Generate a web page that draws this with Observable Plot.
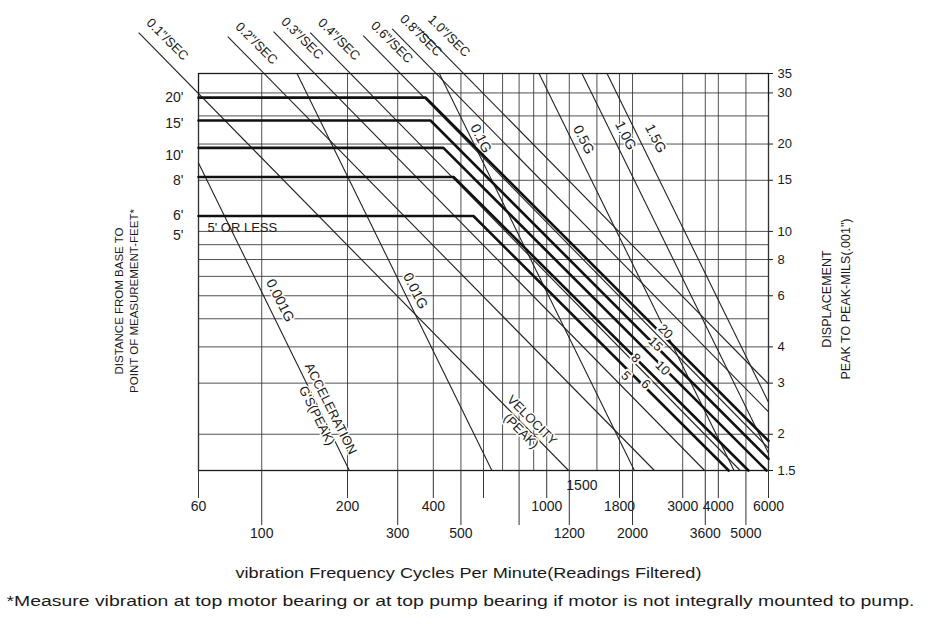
<!DOCTYPE html>
<html>
<head>
<meta charset="utf-8">
<script src="https://cdn.jsdelivr.net/npm/d3@7"></script>
<script src="https://cdn.jsdelivr.net/npm/@observablehq/plot@0.6"></script>
<style>
  html, body { margin: 0; padding: 0; background: #fff; }
  #chart { width: 931px; height: 624px; }
</style>
</head>
<body>
<div id="chart"></div>
<script>
// ---------- data ----------
// grid
const gridCPM = [100, 200, 300, 400, 500, 600, 700, 800, 900, 1000, 1200, 1500, 1800, 2000, 3000, 3600, 4000, 5000];
const gridMils = [2, 3, 4, 5, 6, 7, 8, 9, 10, 15, 20, 25, 30];
// frequency tick labels (two staggered rows + 1500; 60 and 6000 at the frame edges)
const freqRow1 = [200, 400, 600, 1000, 1800, 3000, 4000];
const freqEdge = [60, 6000];
const freqRow2 = [100, 300, 500, 800, 1200, 2000, 3600, 5000];
const freqRow0 = [1500];
// displacement (right) tick labels
const milsTicks = [35, 30, 20, 15, 10, 8, 6, 4, 3, 2, 1.5];
// distance (left) labels
const distanceTickLabels = ["20'", "15'", "10'", "8'", "6'", "5'"];
const distanceTickMils = [28.9, 23.6, 18.3, 15.0, 11.3, 9.7];

// velocity lines (in/sec peak)
const velocityLabels = ['0.1"/SEC', '0.2"/SEC', '0.3"/SEC', '0.4"/SEC', '0.6"/SEC', '0.8"/SEC', '1.0"/SEC'];
const velStartCPM = [37, 76, 110, 148, 227, 287, 360];
const velStartMils = [48.4, 46.9, 48.8, 48.4, 47.3, 49.9, 49.7];
const velEndCPM = [1193, 2387, 3580, 4773, 6000, 6000, 6000];
const velEndMils = [1.5, 1.5, 1.5, 1.5, 1.79, 2.39, 2.98];

// acceleration lines (g peak)
const accelLabels = ["0.001G", "0.01G", "0.1G", "0.5G", "1.0G", "1.5G"];
const accStartCPM = [60, 133, 420, 940, 1329, 1628];
const accStartMils = [17.2, 35, 35, 35, 35, 35];
const accEndCPM = [203, 642, 2031, 4541, 6000, 6000];
const accEndMils = [1.5, 1.5, 1.5, 1.5, 1.72, 2.58];
const accLabelCPM = [116, 346, 587, 1346, 1892, 2408];
const accLabelMils = [5.78, 6.24, 20.9, 20.7, 21.4, 20.9];

// distance-from-base limit lines
const distanceNames = ["20'", "15'", "10'", "8'", "5' OR LESS"];
const distLevelMils = [28.9, 24.1, 19.4, 15.4, 11.3];
const distBreakCPM = [376, 391, 434, 471, 553];
const distEndCPM = [6000, 6000, 5904, 5102, 4348];
const distEndMils = [1.898, 1.645, 1.5, 1.5, 1.5];
const distMarkLabels = ["20", "15", "10", "8", "6", "5"];
const distMarkCPM = [2612, 2408, 2550, 2051, 2224, 1892];
const distMarkMils = [4.52, 4.09, 3.38, 3.66, 2.98, 3.18];

// texts
const leftTitle = "DISTANCE FROM BASE TO\nPOINT OF MEASUREMENT-FEET*";
const rightTitle = "DISPLACEMENT\nPEAK TO PEAK-MILS(.001\")";
const xTitle = "vibration Frequency Cycles Per Minute(Readings Filtered)";
const footnote = "*Measure vibration at top motor bearing or at top pump bearing if motor is not integrally mounted to pump.";
const fiveOrLess = "5' OR LESS";

// ---------- build tables ----------
const vel = velocityLabels.map((label, i) => ({label, x1: velStartCPM[i], y1: velStartMils[i], x2: velEndCPM[i], y2: velEndMils[i]}));
const acc = accelLabels.map((label, i) => ({label, x1: accStartCPM[i], y1: accStartMils[i], x2: accEndCPM[i], y2: accEndMils[i], lx: accLabelCPM[i], ly: accLabelMils[i]}));
const distPts = distanceNames.flatMap((name, i) => [
  {name, x: 60, y: distLevelMils[i]},
  {name, x: distBreakCPM[i], y: distLevelMils[i]},
  {name, x: distEndCPM[i], y: distEndMils[i]}
]);
const distMarks = distMarkLabels.map((t, i) => ({t, x: distMarkCPM[i], y: distMarkMils[i]}));
const distTicks = distanceTickLabels.map((t, i) => ({t, y: distanceTickMils[i]}));

const FONT = "'Liberation Sans', Arial, Helvetica, sans-serif";
const INK = "#1a1a1a";

const chart = Plot.plot({
  width: 931,
  height: 624,
  marginLeft: 198,
  marginRight: 163,
  marginTop: 73,
  marginBottom: 154,
  x: {type: "log", domain: [60, 6000], axis: null},
  y: {type: "log", domain: [1.5, 35], axis: null},
  style: {fontFamily: FONT, fontSize: "13px", color: INK, background: "#fff", overflow: "visible"},
  marks: [
    // grid
    Plot.ruleY(gridMils, {stroke: "#333", strokeWidth: 1, strokeOpacity: 0.85}),
    Plot.ruleX(gridCPM, {stroke: "#333", strokeWidth: 1, strokeOpacity: 0.85}),
    Plot.frame({stroke: INK, strokeWidth: 1.3}),
    // frequency axis: staggered tick rows
    Plot.axisX({anchor: "bottom", ticks: freqRow1, tickSize: 28, tickPadding: 3, tickFormat: d => String(d), fontSize: 14, stroke: "#333"}),
    Plot.tickX(freqEdge, {x: d => d, stroke: "#333", dy: 28}),
    Plot.text(freqEdge, {x: d => d, frameAnchor: "bottom", text: d => String(d), lineAnchor: "top", dy: 31, fontSize: 14}),
    Plot.axisX({anchor: "bottom", ticks: freqRow2, tickSize: 55, tickPadding: 3, tickFormat: d => String(d), fontSize: 14, stroke: "#333"}),
    Plot.axisX({anchor: "bottom", ticks: freqRow0, tickSize: 0, tickPadding: 10, dx: -15, tickFormat: d => String(d), fontSize: 14}),
    // displacement axis (right)
    Plot.axisY({anchor: "right", ticks: milsTicks, tickSize: 4, tickPadding: 5, tickFormat: d => String(d), fontSize: 13}),
    // distance labels (left)
    Plot.text(distTicks, {frameAnchor: "left", y: "y", text: "t", textAnchor: "end", dx: -15, fontSize: 14}),
    // acceleration lines
    Plot.link(acc, {x1: "x1", y1: "y1", x2: "x2", y2: "y2", stroke: "#222", strokeWidth: 1.1}),
    // velocity lines
    Plot.link(vel, {x1: "x1", y1: "y1", x2: "x2", y2: "y2", stroke: "#222", strokeWidth: 1.1}),
    // velocity labels (above the frame)
    Plot.text(vel, {x: "x1", y: "y1", text: "label", rotate: 45, textAnchor: "start", dx: 10, dy: -12, fontSize: 13}),
    // acceleration labels
    Plot.text(acc, {x: "lx", y: "ly", text: "label", rotate: 63.4, fontSize: 14, stroke: "#fff", strokeWidth: 3, fill: INK}),
    // distance limit lines (thick)
    Plot.line(distPts, {x: "x", y: "y", z: "name", stroke: "#111", strokeWidth: 2.6, strokeLinejoin: "round"}),
    Plot.text(distMarks, {x: "x", y: "y", text: "t", rotate: 45, fontSize: 13, stroke: "#fff", strokeWidth: 4, fill: INK}),
    Plot.text([fiveOrLess], {frameAnchor: "left", y: [10.3], text: d => d, textAnchor: "start", dx: 9, fontSize: 13}),
    // axis line labels
    Plot.text(["ACCELERATION\nG'S(PEAK)"], {x: [166], y: [2.39], text: d => d, rotate: 63.4, fontSize: 13, lineHeight: 1.2, stroke: "#fff", strokeWidth: 3, fill: INK}),
    Plot.text(["VELOCITY\n(PEAK)"], {x: [853], y: [2.15], text: d => d, rotate: 45, fontSize: 13, lineHeight: 1.2, stroke: "#fff", strokeWidth: 3, fill: INK}),
    // titles
    Plot.text([leftTitle], {frameAnchor: "left", text: d => d, rotate: -90, textAnchor: "middle", dx: -73, dy: 29, fontSize: 11.5, lineHeight: 1.35}),
    Plot.text([rightTitle], {frameAnchor: "right", text: d => d, rotate: -90, textAnchor: "middle", dx: 66, dy: 27, fontSize: 12.5, lineHeight: 1.5}),
    Plot.text([xTitle], {frameAnchor: "bottom", text: d => d, dx: -15, dy: 107, fontSize: 14}),
    Plot.text([footnote], {frameAnchor: "bottom-left", text: d => d, textAnchor: "start", dx: -192, dy: 135, fontSize: 14})
  ]
});

document.getElementById("chart").appendChild(chart);

// stretch the two bottom texts to the widths in the reference
d3.select(chart).selectAll("text").each(function () {
  const t = this.textContent;
  if (t === xTitle) d3.select(this).attr("textLength", 466).attr("lengthAdjust", "spacingAndGlyphs");
  if (t === footnote) d3.select(this).attr("textLength", 908).attr("lengthAdjust", "spacingAndGlyphs");
});
</script>
</body>
</html>
